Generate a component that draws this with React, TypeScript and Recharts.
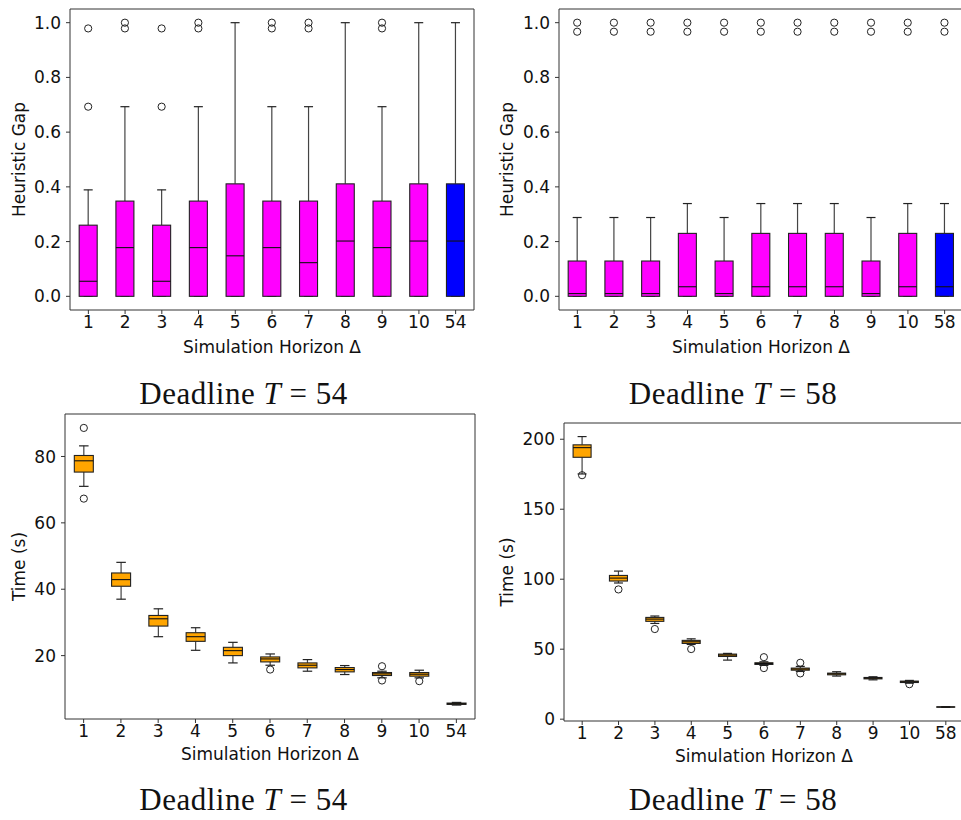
import React from "react";
import { ComposedChart, Bar, Cell, XAxis, YAxis } from "recharts";

// horizons on the x axis
const horizons54 = ["1", "2", "3", "4", "5", "6", "7", "8", "9", "10", "54"];
const horizons58 = ["1", "2", "3", "4", "5", "6", "7", "8", "9", "10", "58"];

// box stats per horizon: [whisker low, q1, median, q3, whisker high]
const gap54 = [
  [0, 0, 0.055, 0.26, 0.389],
  [0, 0, 0.178, 0.348, 0.693],
  [0, 0, 0.055, 0.26, 0.389],
  [0, 0, 0.178, 0.348, 0.693],
  [0, 0, 0.148, 0.411, 1.0],
  [0, 0, 0.178, 0.348, 0.693],
  [0, 0, 0.123, 0.348, 0.693],
  [0, 0, 0.202, 0.411, 1.0],
  [0, 0, 0.178, 0.348, 0.693],
  [0, 0, 0.202, 0.411, 1.0],
  [0, 0, 0.202, 0.411, 1.0],
];
const gap54Outliers = [
  [0.979, 0.693], [1.0, 0.979], [0.979, 0.693], [1.0, 0.979], [],
  [1.0, 0.979], [1.0, 0.979], [], [1.0, 0.979], [], [],
];

const gap58 = [
  [0, 0, 0.01, 0.129, 0.288],
  [0, 0, 0.01, 0.129, 0.288],
  [0, 0, 0.01, 0.129, 0.288],
  [0, 0, 0.035, 0.23, 0.339],
  [0, 0, 0.01, 0.129, 0.288],
  [0, 0, 0.035, 0.23, 0.339],
  [0, 0, 0.035, 0.23, 0.339],
  [0, 0, 0.035, 0.23, 0.339],
  [0, 0, 0.01, 0.129, 0.288],
  [0, 0, 0.035, 0.23, 0.339],
  [0, 0, 0.035, 0.23, 0.339],
];
const gap58Outliers = [
  [1.0, 0.967], [1.0, 0.967], [1.0, 0.967], [1.0, 0.967], [1.0, 0.967], [1.0, 0.967],
  [1.0, 0.967], [1.0, 0.967], [1.0, 0.967], [1.0, 0.967], [1.0, 0.967],
];

const time54 = [
  [71.0, 75.3, 78.7, 80.3, 83.2],
  [37.0, 40.9, 42.9, 44.9, 48.1],
  [25.7, 28.9, 31.1, 32.1, 34.1],
  [21.6, 24.3, 25.7, 26.9, 28.4],
  [17.8, 20.0, 21.5, 22.5, 24.0],
  [17.1, 18.1, 19.0, 19.6, 20.5],
  [15.3, 16.3, 17.1, 17.8, 18.8],
  [14.3, 15.1, 15.8, 16.4, 17.0],
  [13.3, 14.0, 14.5, 14.9, 15.3],
  [13.3, 13.8, 14.4, 14.9, 15.6],
  [5.1, 5.3, 5.5, 5.7, 5.9],
];
const time54Outliers = [[88.6, 67.3], [], [], [], [], [15.8], [], [], [16.8, 12.5], [12.3], []];

const time58 = [
  [175.2, 187.1, 194.0, 196.0, 201.9],
  [97.3, 98.7, 100.8, 102.7, 105.8],
  [68.4, 69.9, 71.5, 72.7, 73.7],
  [53.4, 54.1, 55.3, 56.3, 57.4],
  [42.2, 44.8, 45.8, 46.5, 47.0],
  [38.4, 39.1, 39.8, 40.3, 41.0],
  [34.1, 35.0, 35.8, 36.5, 37.7],
  [30.8, 31.7, 32.4, 32.9, 33.9],
  [28.1, 28.8, 29.3, 29.8, 30.3],
  [25.7, 26.2, 26.7, 27.2, 27.7],
  [8.4, 8.6, 8.7, 8.8, 9.0],
];
const time58Outliers = [[174.3], [92.7], [64.4], [50.1], [], [44.3, 36.5], [40.3, 32.7], [], [], [25.0], []];

const gapTicks = [0, 0.2, 0.4, 0.6, 0.8, 1.0];
const time54Ticks = [20, 40, 60, 80];
const time58Ticks = [0, 50, 100, 150, 200];

const FONT = "DejaVu Sans";
const AXIS = "#333";
const MAGENTA = "#ff00ff";
const BLUE = "#0000ff";
const ORANGE = "#ffa500";

function makeRows(cats: string[], stats: number[][], outliers: number[][]) {
  return cats.map((cat, i) => ({
    cat,
    range: [stats[i][0], stats[i][4]],
    q1: stats[i][1],
    med: stats[i][2],
    q3: stats[i][3],
    out: outliers[i],
  }));
}

// draws the whole box + whiskers + fliers inside the bar's own range rectangle
function BoxShape(props: any) {
  const { x, y, width, height, payload, fill } = props;
  const [lo, hi] = payload.range;
  const toY = (v: number) => y + ((hi - v) / (hi - lo)) * height;
  const cx = x + width / 2;
  const cap = width / 4;
  const yq1 = toY(payload.q1);
  const yq3 = toY(payload.q3);
  const ym = toY(payload.med);
  const yHi = toY(hi);
  const yLo = toY(lo);
  return (
    <g>
      <line x1={cx} x2={cx} y1={yHi} y2={yq3} stroke="#444" strokeWidth={1.2} />
      <line x1={cx} x2={cx} y1={yq1} y2={yLo} stroke="#444" strokeWidth={1.2} />
      <line x1={cx - cap} x2={cx + cap} y1={yHi} y2={yHi} stroke="#222" strokeWidth={1.2} />
      <line x1={cx - cap} x2={cx + cap} y1={yLo} y2={yLo} stroke="#222" strokeWidth={1.2} />
      <rect x={x} y={yq3} width={width} height={Math.max(yq1 - yq3, 0)} fill={fill} stroke="#222" strokeWidth={1.1} />
      <line x1={x} x2={x + width} y1={ym} y2={ym} stroke="#111" strokeWidth={1.1} />
      {payload.out.map((v: number, k: number) => (
        <circle key={k} cx={cx} cy={toY(v)} r={3.6} fill="none" stroke="#222" strokeWidth={1} />
      ))}
    </g>
  );
}

interface PanelProps {
  rows: any[];
  width: number;
  height: number;
  margin: { top: number; right: number; bottom: number; left: number };
  yWidth: number;
  xHeight: number;
  yLabel: string;
  yLabelX: number;
  domain: [number, number];
  ticks: number[];
  fmt: (v: number) => string;
  colors: string[];
}

function Panel(p: PanelProps) {
  const tickStyle = { fill: "#111", fontSize: 17, fontFamily: FONT };
  return (
    <ComposedChart width={p.width} height={p.height} data={p.rows} margin={p.margin} barCategoryGap="25%">
      <XAxis
        dataKey="cat"
        interval={0}
        tick={tickStyle}
        tickSize={4}
        tickMargin={2}
        stroke={AXIS}
        height={p.xHeight}
        label={{
          value: "Simulation Horizon Δ",
          position: "insideBottom",
          offset: 0,
          fill: "#111",
          fontSize: 17,
          fontFamily: FONT,
        }}
      />
      <XAxis xAxisId="top" orientation="top" dataKey="cat" tick={false} tickLine={false} height={1} stroke={AXIS} />
      <YAxis
        domain={p.domain}
        ticks={p.ticks}
        tickFormatter={p.fmt}
        tick={tickStyle}
        tickSize={4}
        tickMargin={5}
        stroke={AXIS}
        width={p.yWidth}
        allowDataOverflow
        label={{
          value: p.yLabel,
          angle: -90,
          position: "insideLeft",
          offset: p.yLabelX,
          fill: "#111",
          fontSize: 17,
          fontFamily: FONT,
          style: { textAnchor: "middle" },
        }}
      />
      <YAxis yAxisId="right" orientation="right" tick={false} tickLine={false} width={1} stroke={AXIS} />
      <Bar dataKey="range" shape={<BoxShape />} isAnimationActive={false}>
        {p.rows.map((r, i) => (
          <Cell key={r.cat} fill={p.colors[i]} />
        ))}
      </Bar>
    </ComposedChart>
  );
}

const capStyle = { fontFamily: "Liberation Serif", fontSize: 31, fill: "#111", letterSpacing: 0.5 };

export default function App() {
  const rowsA = makeRows(horizons54, gap54, gap54Outliers);
  const rowsB = makeRows(horizons58, gap58, gap58Outliers);
  const rowsC = makeRows(horizons54, time54, time54Outliers);
  const rowsD = makeRows(horizons58, time58, time58Outliers);
  const gapColors = horizons54.map((_, i) => (i === horizons54.length - 1 ? BLUE : MAGENTA));
  const timeColors = horizons54.map(() => ORANGE);
  const one = (v: number) => v.toFixed(1);
  const int = (v: number) => String(v);

  return (
    <div style={{ position: "absolute", left: 0, top: 0, width: 961, height: 820, overflow: "hidden", background: "#fff" }}>
      <div style={{ position: "absolute", left: 0, top: 0 }}>
        <Panel rows={rowsA} width={480} height={360} margin={{ top: 8, right: 5, bottom: 7, left: 0 }}
          yWidth={70} xHeight={43} yLabel="Heuristic Gap" yLabelX={19}
          domain={[-0.05, 1.05]} ticks={gapTicks} fmt={one} colors={gapColors} />
      </div>
      <div style={{ position: "absolute", left: 480, top: 0 }}>
        <Panel rows={rowsB} width={486} height={360} margin={{ top: 8, right: 2, bottom: 7, left: 0 }}
          yWidth={79} xHeight={43} yLabel="Heuristic Gap" yLabelX={27}
          domain={[-0.05, 1.05]} ticks={gapTicks} fmt={one} colors={gapColors} />
      </div>
      <div style={{ position: "absolute", left: 0, top: 370 }}>
        <Panel rows={rowsC} width={480} height={420} margin={{ top: 43, right: 4, bottom: 30, left: 0 }}
          yWidth={65} xHeight={41} yLabel="Time (s)" yLabelX={19}
          domain={[0.9, 92.8]} ticks={time54Ticks} fmt={int} colors={timeColors} />
      </div>
      <div style={{ position: "absolute", left: 480, top: 370 }}>
        <Panel rows={rowsD} width={486} height={420} margin={{ top: 52, right: 1, bottom: 28, left: 0 }}
          yWidth={84} xHeight={41} yLabel="Time (s)" yLabelX={27}
          domain={[-1.3, 211.6]} ticks={time58Ticks} fmt={int} colors={timeColors} />
      </div>
      <svg width={961} height={820} style={{ position: "absolute", left: 0, top: 0, pointerEvents: "none" }}>
        <text x={243.5} y={404} textAnchor="middle" {...capStyle}>
          Deadline <tspan fontStyle="italic">T</tspan> = 54
        </text>
        <text x={733} y={404} textAnchor="middle" {...capStyle}>
          Deadline <tspan fontStyle="italic">T</tspan> = 58
        </text>
        <text x={243.5} y={810} textAnchor="middle" {...capStyle}>
          Deadline <tspan fontStyle="italic">T</tspan> = 54
        </text>
        <text x={733} y={810} textAnchor="middle" {...capStyle}>
          Deadline <tspan fontStyle="italic">T</tspan> = 58
        </text>
      </svg>
    </div>
  );
}
